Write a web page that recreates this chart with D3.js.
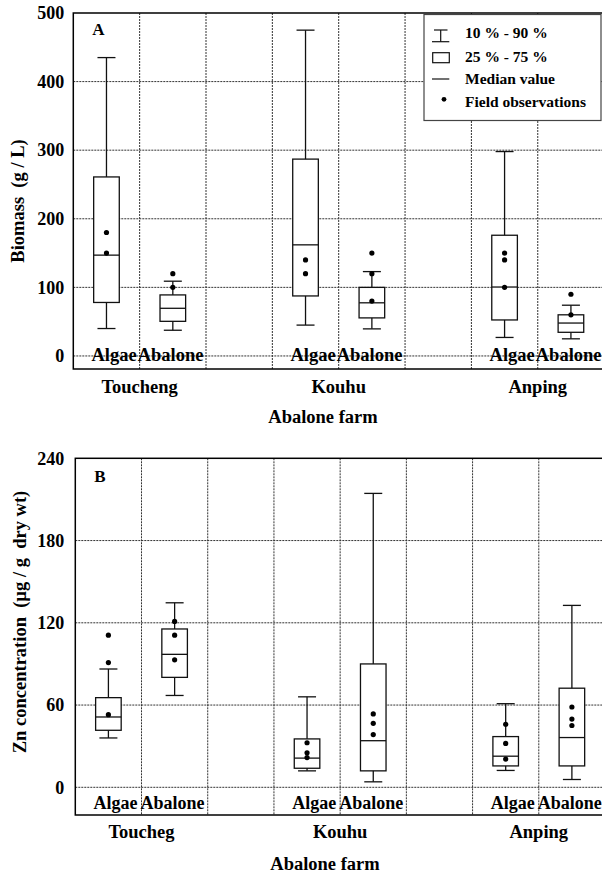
<!DOCTYPE html>
<html>
<head>
<meta charset="utf-8">
<script src="https://cdn.jsdelivr.net/npm/d3@7"></script>
<style>
  html, body { margin: 0; padding: 0; background: #fff; }
  text { font-family: "Liberation Serif", "Times New Roman", serif; font-weight: bold; fill: #000; }
</style>
</head>
<body>
<svg id="chart" width="602" height="876"></svg>
<script>
// ---------- data ----------
const slots = ["T-Algae", "T-Abalone", "gap1", "K-Algae", "K-Abalone", "gap2", "A-Algae", "A-Abalone"];
const boxSlots = ["T-Algae", "T-Abalone", "K-Algae", "K-Abalone", "A-Algae", "A-Abalone"];
const sampleTypes = ["Algae", "Abalone"];
const farmsA = ["Toucheng", "Kouhu", "Anping"];
const farmsB = ["Toucheg", "Kouhu", "Anping"];

// Panel A: biomass (g / L)
const biomassP10 = [40, 37.5, 45, 39.5, 27, 25];
const biomassP25 = [78, 50.5, 87.5, 55.5, 52.5, 34.5];
const biomassMedian = [147, 69.5, 162, 77.5, 100.5, 48];
const biomassP75 = [261, 89, 287, 100, 176, 60];
const biomassP90 = [435, 109, 475, 123, 298, 74];
const biomassObs = [[180, 150], [120, 100], [140, 120], [150, 120, 80], [150, 140, 100], [90, 60]];
const biomassTicks = [0, 100, 200, 300, 400, 500];

// Panel B: Zn concentration (µg / g dry wt)
const znP10 = [36, 67, 12, 4, 12.3, 5.7];
const znP25 = [41.6, 80.2, 13.9, 12, 15.6, 15.6];
const znMedian = [51.3, 97, 21.3, 34, 22.7, 36.3];
const znP75 = [65.4, 115.5, 35.3, 90, 37, 72.3];
const znP90 = [86.3, 134.6, 66, 214.4, 61, 132.7];
const znObs = [[111, 91, 53], [121, 111, 93], [32.5, 25.2, 21.7], [53.5, 46.7, 38.5], [46, 32, 20.6], [58.6, 49.8, 45.1]];
const znTicks = [0, 60, 120, 180, 240];

const legendLabels = ["10 % - 90 %", "25 % - 75 %", "Median value", "Field observations"];

// ---------- drawing ----------
const FONT = '"Liberation Serif", "Times New Roman", serif';
const svg = d3.select("#chart").style("font-family", FONT);
svg.append("rect").attr("width", 602).attr("height", 876).attr("fill", "#fff");

function drawPanel(cfg) {
  const g = svg.append("g");
  const x = d3.scaleBand().domain(slots).range([cfg.left, cfg.right]).padding(0);
  const y = d3.scaleLinear().domain(cfg.domain).range([cfg.bottom, cfg.top]);
  const bw = x.bandwidth();
  const boxW = bw * 0.386;
  const capW = 18;

  // grid
  const gridColor = "#333";
  g.selectAll(".vgrid").data(slots.slice(1)).join("line")
    .attr("x1", d => x(d)).attr("x2", d => x(d))
    .attr("y1", cfg.top).attr("y2", cfg.bottom)
    .attr("stroke", gridColor).attr("stroke-width", 1).attr("stroke-dasharray", "2,1");
  g.selectAll(".hgrid").data(cfg.ticks.filter(t => t < cfg.domain[1])).join("line")
    .attr("x1", cfg.left).attr("x2", cfg.right)
    .attr("y1", d => y(d)).attr("y2", d => y(d))
    .attr("stroke", gridColor).attr("stroke-width", 1).attr("stroke-dasharray", "2,1");

  // y axis labels
  const ax = g.append("g").attr("transform", `translate(${cfg.left},0)`)
    .call(d3.axisLeft(y).tickValues(cfg.ticks).tickSize(0).tickPadding(cfg.tickPad));
  ax.attr("font-family", null);
  ax.select(".domain").remove();
  ax.selectAll("text").style("font-family", FONT)
    .style("font-weight", "bold").style("font-size", "18px").attr("fill", "#000");

  // boxes
  const rows = boxSlots.map((s, i) => ({
    slot: s, p10: cfg.p10[i], p25: cfg.p25[i], med: cfg.med[i], p75: cfg.p75[i], p90: cfg.p90[i], obs: cfg.obs[i]
  }));
  const bg = g.selectAll(".box").data(rows).join("g");
  const cx = d => x(d.slot) + bw / 2;
  const stroke = "#111";
  bg.append("line").attr("x1", cx).attr("x2", cx)
    .attr("y1", d => y(d.p90)).attr("y2", d => y(d.p10)).attr("stroke", stroke).attr("stroke-width", 1.3);
  bg.append("line").attr("x1", d => cx(d) - capW / 2).attr("x2", d => cx(d) + capW / 2)
    .attr("y1", d => y(d.p90)).attr("y2", d => y(d.p90)).attr("stroke", stroke).attr("stroke-width", 1.3);
  bg.append("line").attr("x1", d => cx(d) - capW / 2).attr("x2", d => cx(d) + capW / 2)
    .attr("y1", d => y(d.p10)).attr("y2", d => y(d.p10)).attr("stroke", stroke).attr("stroke-width", 1.3);
  bg.append("rect").attr("x", d => cx(d) - boxW / 2).attr("width", boxW)
    .attr("y", d => y(d.p75)).attr("height", d => y(d.p25) - y(d.p75))
    .attr("fill", "#fff").attr("stroke", stroke).attr("stroke-width", 1.3);
  bg.append("line").attr("x1", d => cx(d) - boxW / 2).attr("x2", d => cx(d) + boxW / 2)
    .attr("y1", d => y(d.med)).attr("y2", d => y(d.med)).attr("stroke", stroke).attr("stroke-width", 1.3);
  bg.each(function (d) {
    d3.select(this).selectAll("circle").data(d.obs).join("circle")
      .attr("cx", cx(d)).attr("cy", v => y(v)).attr("r", 2.6).attr("fill", "#000");
  });

  // frame
  g.append("rect").attr("x", cfg.left).attr("y", cfg.top)
    .attr("width", cfg.right - cfg.left).attr("height", cfg.bottom - cfg.top)
    .attr("fill", "none").attr("stroke", "#000").attr("stroke-width", 1.5);

  // sample type labels
  const pairs = [["T-Algae", "T-Abalone"], ["K-Algae", "K-Abalone"], ["A-Algae", "A-Abalone"]];
  pairs.forEach((p, i) => {
    const boundary = x(p[1]);
    g.append("text").attr("x", boundary - cfg.algaeGap).attr("y", y(cfg.labelVal))
      .attr("text-anchor", "end").style("font-size", cfg.labelSize).text(sampleTypes[0]);
    g.append("text").attr("x", boundary - cfg.abaloneGap).attr("y", y(cfg.labelVal))
      .attr("text-anchor", "start").style("font-size", cfg.labelSize).text(sampleTypes[1]);
    g.append("text").attr("x", boundary).attr("y", cfg.farmY)
      .attr("text-anchor", "middle").style("font-size", "18.5px").text(cfg.farms[i]);
  });

  g.append("text").attr("x", cfg.xTitleX).attr("y", cfg.xTitleY)
    .attr("text-anchor", "middle").style("font-size", "18.5px").text("Abalone farm");

  g.append("text").attr("transform", `translate(${cfg.yTitleX},${cfg.yTitleY}) rotate(-90)`)
    .attr("text-anchor", "middle").style("font-size", "18.5px").style("white-space", "pre")
    .attr("xml:space", "preserve").text(cfg.yTitle);

  g.append("text").attr("x", cfg.left + 19).attr("y", cfg.panelLabelY)
    .style("font-size", "17px").text(cfg.panelLabel);
  return { x, y };
}

drawPanel({
  left: 73.3, right: 604.1, top: 13, bottom: 369, domain: [-19, 500], ticks: biomassTicks, tickPad: 9,
  p10: biomassP10, p25: biomassP25, med: biomassMedian, p75: biomassP75, p90: biomassP90, obs: biomassObs,
  farms: farmsA, labelVal: -8, labelSize: "18.5px", algaeGap: 3, abaloneGap: 2, farmY: 393, xTitleX: 323, xTitleY: 423.3,
  yTitle: "Biomass  (g / L)", yTitleX: 24, yTitleY: 201, panelLabel: "A", panelLabelY: 35
});

drawPanel({
  left: 75.3, right: 605, top: 458.3, bottom: 815, domain: [-20.2, 240], ticks: znTicks, tickPad: 11,
  p10: znP10, p25: znP25, med: znMedian, p75: znP75, p90: znP90, obs: znObs,
  farms: farmsB, labelVal: -16, labelSize: "18px", algaeGap: 4, abaloneGap: 1, farmY: 838.3, xTitleX: 325, xTitleY: 870,
  yTitle: "Zn concentration  (µg / g  dry wt)", yTitleX: 26, yTitleY: 622, panelLabel: "B", panelLabelY: 481.7
});

// legend (panel A)
const lg = svg.append("g");
lg.append("rect").attr("x", 424).attr("y", 14.5).attr("width", 177).attr("height", 106)
  .attr("fill", "#fff").attr("stroke", "#444").attr("stroke-width", 1.2);
const ly = [38.3, 62.3, 84, 106.7];
const sx0 = 432, sx1 = 449.3, scx = 440.7;
// whisker symbol
lg.append("line").attr("x1", scx).attr("x2", scx).attr("y1", 30).attr("y2", 41.7).attr("stroke", "#111").attr("stroke-width", 1.2);
lg.append("line").attr("x1", 434).attr("x2", 447.5).attr("y1", 30).attr("y2", 30).attr("stroke", "#111").attr("stroke-width", 1.2);
lg.append("line").attr("x1", sx0).attr("x2", sx1).attr("y1", 41.7).attr("y2", 41.7).attr("stroke", "#111").attr("stroke-width", 1.2);
// box symbol
lg.append("rect").attr("x", 432.7).attr("y", 52.7).attr("width", 16.6).attr("height", 10)
  .attr("fill", "#fff").attr("stroke", "#111").attr("stroke-width", 1.2);
// median symbol
lg.append("line").attr("x1", sx0).attr("x2", sx1).attr("y1", 79).attr("y2", 79).attr("stroke", "#111").attr("stroke-width", 1.2);
// dot symbol
lg.append("circle").attr("cx", 444).attr("cy", 99.3).attr("r", 2.4).attr("fill", "#000");
lg.selectAll(".lt").data(legendLabels).join("text")
  .attr("x", 465).attr("y", (d, i) => ly[i]).style("font-size", "15.5px").text(d => d);
</script>
</body>
</html>
